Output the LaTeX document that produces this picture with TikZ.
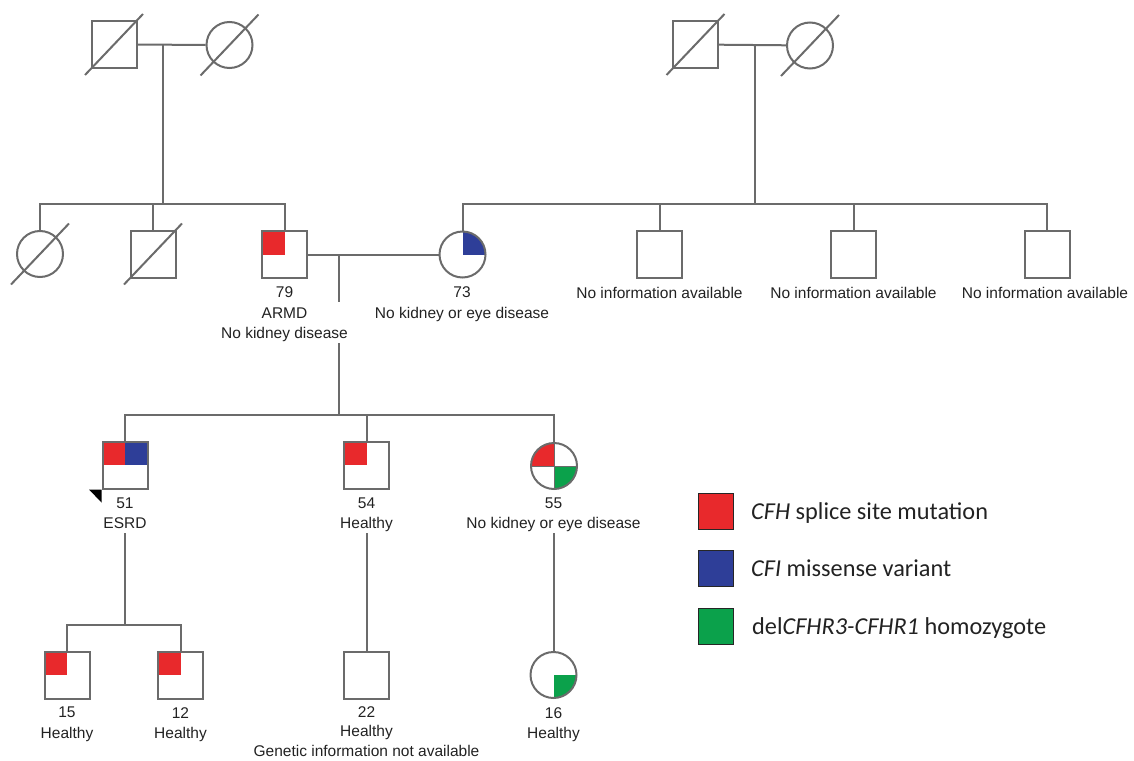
\documentclass[tikz,border=0pt]{standalone}
\usepackage{fontspec}
\setmainfont{Liberation Sans}
\newfontfamily\legfont{Carlito}
\definecolor{lc}{HTML}{6B6B6B}
\definecolor{mred}{HTML}{E8292C}
\definecolor{mblue}{HTML}{2E3E98}
\definecolor{mgreen}{HTML}{0BA14B}
\definecolor{tc}{HTML}{222222}
\newcommand\deadslash[1]{\draw[conn] ([shift={(-29,30.5)}]#1.center) -- ([shift={(29,-30.5)}]#1.center);}
\begin{document}
\begin{tikzpicture}[x=1pt,y=-1pt,
 conn/.style={draw=lc, line width=2pt},
 male/.style={rectangle, draw=lc, line width=2pt, fill=white, minimum width=45pt, minimum height=47pt, inner sep=0pt},
 female/.style={circle, draw=lc, line width=2pt, fill=white, minimum size=46pt, inner sep=0pt},
 quads/.style n args={4}{path picture={
   \fill[#1] (path picture bounding box.north west) rectangle (path picture bounding box.center);
   \fill[#2] (path picture bounding box.north east) rectangle (path picture bounding box.center);
   \fill[#3] (path picture bounding box.south west) rectangle (path picture bounding box.center);
   \fill[#4] (path picture bounding box.south east) rectangle (path picture bounding box.center);}},
 crossquads/.style n args={4}{path picture={
   \fill[#1] (path picture bounding box.north west) rectangle (path picture bounding box.center);
   \fill[#2] (path picture bounding box.north east) rectangle (path picture bounding box.center);
   \fill[#3] (path picture bounding box.south west) rectangle (path picture bounding box.center);
   \fill[#4] (path picture bounding box.south east) rectangle (path picture bounding box.center);
   \draw[lc, line width=0.8pt] (path picture bounding box.north) -- (path picture bounding box.south);
   \draw[lc, line width=0.8pt] (path picture bounding box.west) -- (path picture bounding box.east);}},
 lab/.style={font=\fontsize{15.5}{20.5}\selectfont, text=tc, align=center, inner sep=0pt, anchor=north},
 legbox/.style={rectangle, draw=black!85, line width=1pt, minimum width=35pt, minimum height=36pt, inner sep=0pt},
 legtext/.style={font=\legfont\fontsize{24.3}{28}\selectfont, text=tc, anchor=base west, inner sep=0pt}
]
\useasboundingbox (0,0) rectangle (1134,760);

% ---------- individuals ----------
\node[male] (gf1) at (114,44.5) {};
\node[female] (gm1) at (229.5,45) {};
\node[male] (gf2) at (695.5,44.5) {};
\node[female] (gm2) at (810,45.5) {};

\node[female] (c1) at (40,254) {};
\node[male] (c2) at (153,254) {};
\node[male, quads={mred}{white}{white}{white}] (p79) at (284.5,254.5) {};
\node[female, quads={white}{mblue}{white}{white}] (m73) at (462.5,254.5) {};
\node[male] (r1) at (659.5,254.5) {};
\node[male] (r2) at (853.5,254.5) {};
\node[male] (r3) at (1047,254.5) {};

\node[male, quads={mred}{mblue}{white}{white}] (p51) at (125,465) {};
\node[male, quads={mred}{white}{white}{white}] (p54) at (366.5,465) {};
\node[female, crossquads={mred}{white}{white}{mgreen}] (p55) at (554,466) {};

\node[male, quads={mred}{white}{white}{white}] (p15) at (67,675) {};
\node[male, quads={mred}{white}{white}{white}] (p12) at (180.5,675) {};
\node[male] (p22) at (366.5,675) {};
\node[female, quads={white}{white}{white}{mgreen}] (p16) at (553.5,675) {};

% deceased slashes
\deadslash{gf1}
\deadslash{gm1}
\deadslash{gf2}
\deadslash{gm2}
\deadslash{c1}
\deadslash{c2}

% proband arrowhead
\fill[black] ([shift={(-12.5,0)}]p51.south west) -- (p51.south west) -- ([shift={(0,13)}]p51.south west) -- cycle;

% ---------- junction coordinates ----------
\coordinate (m1) at (163,45);
\coordinate (s1) at (163,204);
\coordinate (m2) at (755,45);
\coordinate (s5) at (755,204);
\coordinate (d79) at (338.5,254.5);
\coordinate (s2) at (338.5,415);
\coordinate (b51) at (125,533);
\coordinate (s3) at (125,625);
\coordinate (b54) at (366.5,533);
\coordinate (b55) at (553.5,533);

% ---------- connectors ----------
\draw[conn] (gf1) -- (gm1);
\draw[conn] (m1) -- (s1);
\draw[conn] (c1.north) |- (s1) -| (p79.north);
\draw[conn] (c2.north) -- (c2.north |- s1);

\draw[conn] (gf2) -- (gm2);
\draw[conn] (m2) -- (s5);
\draw[conn] (m73.north) |- (s5) -| (r3.north);
\draw[conn] (r1.north) -- (r1.north |- s5);
\draw[conn] (r2.north) -- (r2.north |- s5);

\draw[conn] (p79) -- (m73);
\draw[conn] (d79) -- (s2);
\draw[conn] (p51.north) |- (s2) -| (p55.north);
\draw[conn] (p54.north) -- (p54.north |- s2);

\draw[conn] (b51) -- (s3);
\draw[conn] (p15.north) |- (s3) -| (p12.north);
\draw[conn] (b54) -- (p22.north);
\draw[conn] (b55) -- (p16.north);

% ---------- labels ----------
\node[lab, anchor=base, fill=white, text height=36.5pt, text depth=4.5pt] (t79c) at (284.5,338.5) {No kidney disease};
\node[lab] (t79) at (284.5,286.5) {79\\ARMD};
\node[lab] (t73) at (462,286.5) {73\\No kidney or eye disease};
\node[lab] (tr1) at (659.5,287) {No information available};
\node[lab] (tr2) at (853.5,287) {No information available};
\node[lab] (tr3) at (1045,287) {No information available};

\node[lab] (t51) at (125,497.5) {51\\ESRD};
\node[lab] (t54) at (366.5,497.5) {54\\Healthy};
\node[lab] (t55) at (553.5,497.5) {55\\No kidney or eye disease};

\node[lab] (t15) at (67,707) {15\\Healthy};
\node[lab] (t12) at (180.5,707) {12\\Healthy};
\node[lab, font=\fontsize{15.5}{19.8}\selectfont] (t22) at (366.5,706) {22\\Healthy\\Genetic information not available};
\node[lab] (t16) at (553.5,707) {16\\Healthy};

% ---------- legend ----------
\node[legbox, fill=mred] (k1) at (715.5,511) {};
\node[legbox, fill=mblue] (k2) at (715.5,568) {};
\node[legbox, fill=mgreen] (k3) at (715.5,626) {};
\node[legtext] (k1t) at (751,519) {\textit{CFH} splice site mutation};
\node[legtext] (k2t) at (751,576) {\textit{CFI} missense variant};
\node[legtext] (k3t) at (752,634) {del\textit{CFHR3-CFHR1} homozygote};
\end{tikzpicture}
\end{document}
